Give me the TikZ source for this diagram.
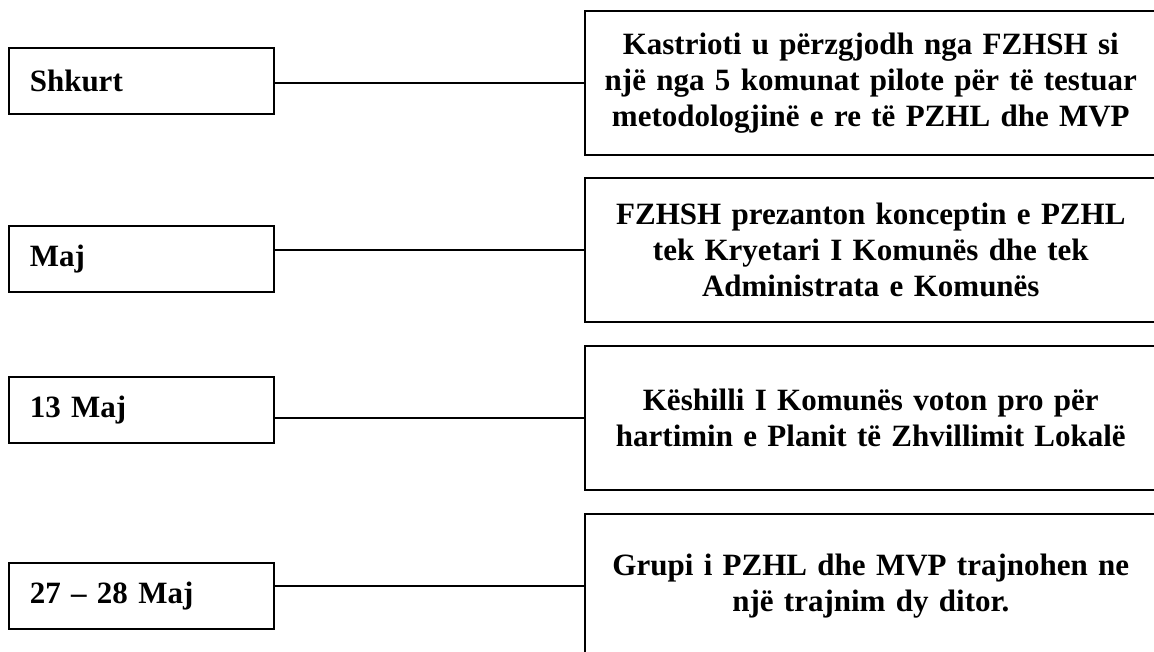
\documentclass[tikz,border=0pt]{standalone}
\usepackage{fontspec}
\setmainfont{Liberation Serif}
\usepackage{tikz}
\usetikzlibrary{calc}

\begin{document}
\begin{tikzpicture}[x=1pt,y=-1pt,
  datebox/.style={draw=\cLine, line width=\w, anchor=north west, align=left,
    text width=223pt, inner xsep=21pt, inner ysep=0pt, minimum height=66pt,
    font=\boxfont},
  eventbox/.style={draw=\cLine, line width=\w, anchor=north west, align=center,
    text width=564pt, inner xsep=4pt, inner ysep=0pt, minimum height=144pt,
    font=\boxfont},
  link/.style={draw=\cLine, line width=\w}]
\def\cLine{black}
\def\w{1.6pt}
\def\boxfont{\fontsize{31}{36}\selectfont\bfseries\spaceskip=.19em plus .05em}
\useasboundingbox (0,0) rectangle (1154,652);
% dates
\node[datebox] (d1) at (8,47) {Shkurt};
\node[datebox] (d2) at (8,225) {Maj};
\node[datebox] (d3) at (8,376) {13 Maj};
\node[datebox] (d4) at (8,562) {27 -- 28 Maj};
% events (right edge runs off the page)
\node[eventbox] (e1) at (584,10) {Kastrioti u përzgjodh nga FZHSH si\\ një nga 5 komunat pilote për të testuar\\ metodologjinë e re të PZHL dhe MVP};
\node[eventbox] (e2) at (584,177) {FZHSH prezanton konceptin e PZHL\\ tek Kryetari I Komunës dhe tek\\ Administrata e Komunës};
\node[eventbox] (e3) at (584,345) {Këshilli I Komunës voton pro për\\ hartimin e Planit të Zhvillimit Lokalë};
\node[eventbox] (e4) at (584,513) {Grupi i PZHL dhe MVP trajnohen ne\\ një trajnim dy ditor.};
% links
\draw[link] (e1.west) -- (e1.west -| d1.east);
\draw[link] (e2.west) -- (e2.west -| d2.east);
\draw[link] (e3.west) -- (e3.west -| d3.east);
\draw[link] (e4.west) -- (e4.west -| d4.east);
\end{tikzpicture}
\end{document}
